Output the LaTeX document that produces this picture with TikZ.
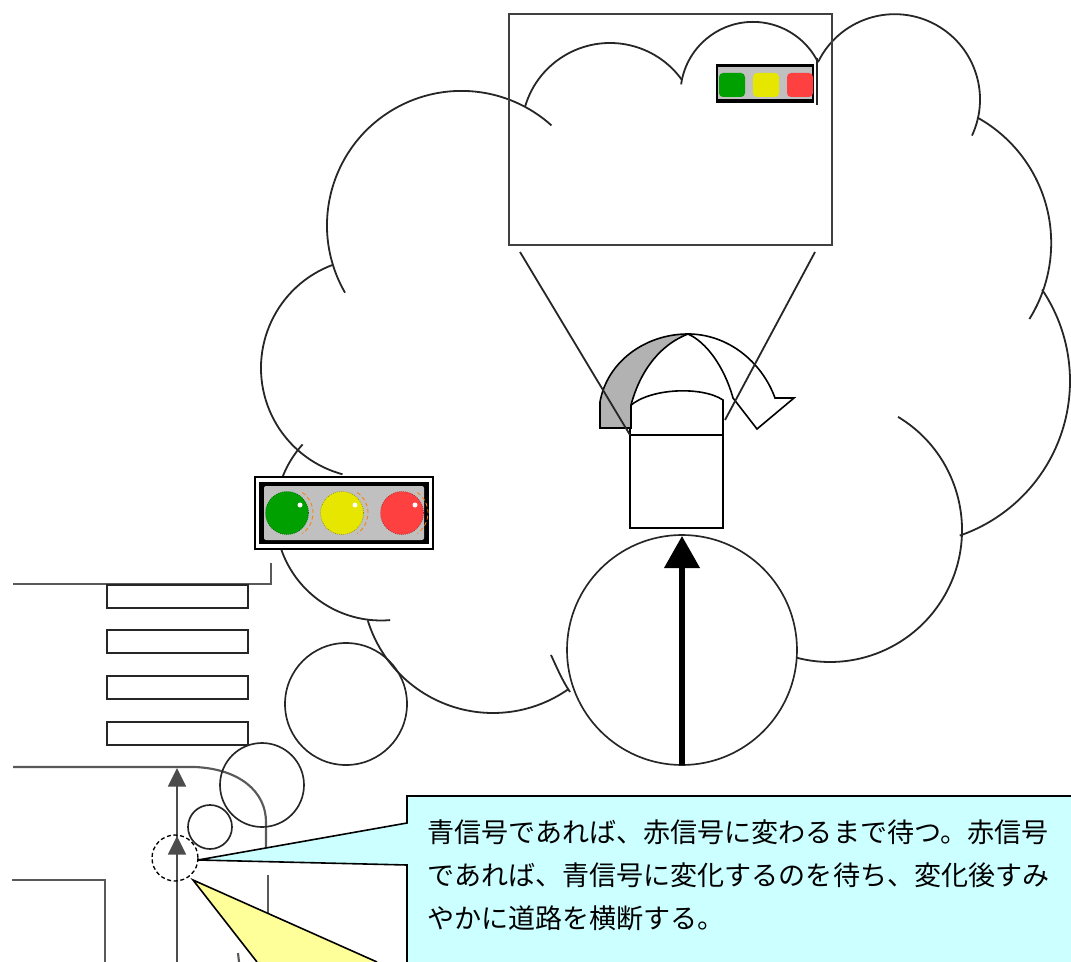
\documentclass[tikz,border=0pt]{standalone}
\usepackage{fontspec}
\newfontfamily\jpfont{Noto Sans CJK JP}
\usetikzlibrary{arrows.meta}
\definecolor{calloutblue}{HTML}{CCFFFF}
\definecolor{calloutyellow}{HTML}{FFFF99}
\definecolor{lampgray}{HTML}{C0C0C0}
\definecolor{lampgreen}{HTML}{00A000}
\definecolor{lampyellow}{HTML}{E6E600}
\definecolor{lampred}{HTML}{FF4040}

\begin{document}
\begin{tikzpicture}[
    x=0.75pt, y=-0.75pt,
    cloudline/.style={draw=black!85, line width=1.35pt},
    roadline/.style={draw=black!65, line width=1.6pt},
    stripe/.style={draw=black!85, line width=1.5pt},
    bubble/.style={draw=black!85, line width=1.25pt},
    callout/.style={draw=black, line width=1.2pt, line join=miter},
    msg/.style={font={\jpfont\fontsize{20.3}{24}\selectfont}, anchor=base west, inner sep=0pt},
    >=Stealth
]
\useasboundingbox (0,0) rectangle (1071,962);

% road edges and crossing stripes
\draw[roadline] (13,584) -- (271,584) -- (271,563);
\draw[roadline] (13,767) -- (195,767) .. controls (240,769) and (266,792) .. (266,822) -- (266,848);
\draw[roadline] (268,875) -- (268,913);
\draw[roadline] (12,880) -- (105,880) -- (105,962);
\draw[roadline] (238,953) -- (239,962);
\foreach \y in {585,630,676,722}
  \draw[stripe] (107,\y) rectangle (248,\y+23);

% walking path
\draw[black!70, line width=1.3pt, -{Triangle[length=14pt, width=13.5pt]}] (177,962) -- (177,768);
\draw[black!70, line width=1.3pt, -{Triangle[length=14pt, width=13.5pt]}] (177,880) -- (177,836);
\draw[densely dashed, line width=1pt] (175,858) circle[radius=23];

% cloud lobes: centre x / centre y / radius / from / to
\foreach \cx/\cy/\rad/\a/\b in {
    461.5/225.4/134.5/150/312, 610/131.5/88.5/196/324, 753/94.5/72.6/188/333,
    894.7/99.5/85.3/206/385, 907.7/243/143.5/299/392, 906.5/381/163.5/326/431,
    830/530/132/-59/108, 493/582/131/163/55, 381/515/105.5/222/85, 371/368/110/250/105}
  \draw[cloudline] (\cx,\cy) ++(\a:\rad) arc[start angle=\a, end angle=\b, radius=\rad];
\draw[cloudline] (551,655) .. controls (557,668) and (562,680) .. (570,692);
\draw[cloudline] (817,58) -- (817,105);

% thought bubbles
\draw[bubble, fill=white] (682,650) circle[radius=115];
\draw[line width=3.8pt, -{Triangle[length=24pt, width=26pt]}] (682,765) -- (682,536);
\draw[bubble] (346,704) circle[radius=61];
\draw[bubble] (262,785) circle[radius=42];
\draw[bubble] (210,827) circle[radius=22];

% close-up frame
\draw[draw=black!75, line width=1.7pt] (509,14) rectangle (832,245);

% box with turning lid
\draw[line width=1.2pt, fill=white] (630,435) -- (630,406) .. controls (650,388) and (702,386) .. (723,400) -- (723,435);
\draw[line width=1.2pt, fill=black!30] (600,428) -- (600,402) .. controls (607,362) and (645,334) .. (688,334)
    .. controls (662,344) and (641,368) .. (631,405) -- (631,428) -- cycle;
\draw[line width=1.2pt, fill=white] (688,334) .. controls (728,334) and (762,362) .. (775,398) -- (794,398)
    -- (757,429) -- (733,398) .. controls (724,366) and (706,342) .. (688,334) -- cycle;
\draw[line width=1.5pt] (630,435) rectangle (723,528);
\draw[cloudline] (520,252) -- (630,435);
\draw[cloudline] (815,252) -- (725,420);

% signal on the street
\draw[line width=1pt, fill=white] (255,477) rectangle (433,549);
\fill[black] (259,482) rectangle (429,544);
\fill[lampgray, rounded corners=1.5pt] (264,486) rectangle (424,540);
\foreach \x/\c in {287/lampgreen, 342/lampyellow, 402/lampred} {
  \draw[\c!60!black, line width=0.5pt, densely dotted, fill=\c] (\x,513) circle[radius=21.5];
  \draw[orange, line width=0.6pt, densely dashed] (\x+1,513) ++(-55:25) arc[start angle=-55, end angle=55, radius=25];
  \fill[white] (\x+13,505) circle[radius=2.5];
}

% signal in the close-up
\fill[black] (716,64) rectangle (814,103);
\fill[lampgray] (718,67) rectangle (812,99);
\foreach \x/\c in {732/lampgreen, 766/lampyellow, 800/lampred}
  \fill[\c, rounded corners=3pt] (\x-13,73) rectangle (\x+13,97);

% callouts
\fill[calloutyellow] (193,880) -- (377,962) -- (257,962) -- cycle;
\draw[callout] (257,962) -- (193,880) -- (377,962);
\fill[calloutblue] (407,796) -- (1071,796) -- (1071,962) -- (407,962) -- (407,865) -- (198,860) -- (407,823) -- cycle;
\draw[callout] (1071,796) -- (407,796) -- (407,823) -- (198,860) -- (407,865) -- (407,962);
\node[msg] (l1) at (427,842) {青信号であれば、赤信号に変わるまで待つ。赤信号};
\node[msg] (l2) at (427,885) {であれば、青信号に変化するのを待ち、変化後すみ};
\node[msg] (l3) at (427,928) {やかに道路を横断する。};
\end{tikzpicture}
\end{document}
